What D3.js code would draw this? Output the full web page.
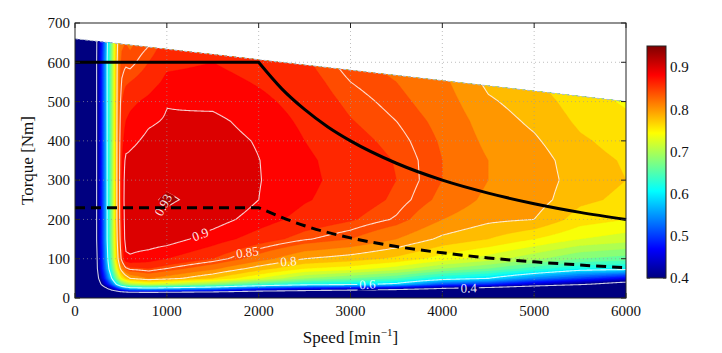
<!DOCTYPE html>
<html>
<head>
<meta charset="utf-8">
<script src="https://cdn.jsdelivr.net/npm/d3@7"></script>
<style>
  body { margin: 0; background: #fff; }
  svg text { font-family: "Liberation Serif", "DejaVu Serif", serif; }
</style>
</head>
<body>
<div id="chart"></div>
<script>
// Efficiency map of an electric drive: speed [min^-1] vs torque [Nm]
// grid values

const speeds  = [0, 100, 200, 300, 400, 450, 500, 550, 600, 800, 1000, 1500, 2000, 2500, 3000, 3500, 4000, 4500, 5000, 5500, 6000];
const torques = [0, 10, 20, 35, 50, 75, 100, 150, 200, 250, 300, 350, 400, 450, 500, 550, 600, 660];

// one row per torque, one column per speed
const efficiency = [
  [0, 0,   0,   0,   0,    0,    0,    0,    0,    0,    0,    0,    0,     0,    0,    0,    0,    0,    0,    0,    0],
  [0, .10, .15, .20, .24,  .26,  .28,  .29,  .30,  .30,  .30,  .28,  .25,   .24,  .22,  .20,  .18,  .16,  .14,  .12,  .10],
  [0, .13, .25, .33, .40,  .44,  .48,  .50,  .52,  .53,  .52,  .50,  .45,   .42,  .40,  .38,  .35,  .32,  .28,  .25,  .22],
  [0, .15, .30, .42, .53,  .60,  .66,  .69,  .71,  .73,  .72,  .69,  .65,   .62,  .61,  .59,  .52,  .50,  .45,  .41,  .36],
  [0, .16, .32, .46, .60,  .68,  .75,  .78,  .80,  .82,  .81,  .78,  .74,   .70,  .68,  .66,  .62,  .60,  .55,  .51,  .47],
  [0, .17, .33, .49, .65,  .74,  .81,  .845, .855, .86,  .85,  .825, .79,   .76,  .75,  .73,  .70,  .68,  .65,  .62,  .615],
  [0, .17, .33, .50, .675, .77,  .85,  .895, .897, .89,  .88,  .86,  .83,   .80,  .79,  .775, .75,  .73,  .705, .68,  .67],
  [0, .18, .34, .51, .69,  .785, .865, .908, .91,  .912, .91,  .89,  .87,   .852, .84,  .82,  .795, .78,  .76,  .74,  .73],
  [0, .18, .34, .51, .69,  .79,  .872, .91,  .915, .922, .925, .91,  .89,   .872, .862, .848, .82,  .805, .80,  .77,  .76],
  [0, .18, .34, .51, .69,  .79,  .875, .912, .917, .926, .933, .922, .90,   .882, .87,  .857, .835, .815, .81,  .785, .775],
  [0, .18, .34, .51, .69,  .79,  .875, .91,  .913, .922, .925, .92,  .901,  .885, .872, .86,  .84,  .82,  .812, .79,  .78],
  [0, .18, .34, .51, .69,  .79,  .872, .905, .905, .913, .915, .915, .9005, .884, .87,  .859, .84,  .82,  .81,  .788, .778],
  [0, .18, .34, .51, .69,  .79,  .868, .89,  .895, .905, .908, .91,  .898,  .88,  .866, .855, .838, .815, .803, .783, .772],
  [0, .18, .34, .51, .69,  .79,  .862, .88,  .885, .897, .902, .905, .892,  .876, .861, .85,  .835, .81,  .796, .776, .765],
  [0, .18, .34, .51, .69,  .79,  .856, .87,  .875, .885, .899, .895, .885,  .872, .856, .845, .83,  .803, .79,  .77,  .757],
  [0, .18, .34, .51, .69,  .79,  .85,  .857, .86,  .87,  .885, .888, .878,  .868, .85,  .84,  .825, .795, .783, .762, .75],
  [0, .18, .34, .51, .69,  .79,  .843, .848, .845, .86,  .875, .88,  .87,   .863, .843, .834, .82,  .79,  .775, .755, .742],
  [0, .18, .34, .50, .685, .785, .835, .838, .835, .845, .865, .87,  .862,  .856, .835, .826, .812, .78,  .767, .745, .735]
];

// measured area ends at this torque limit
const limitSpeed  = [0, 6000];
const limitTorque = [660, 500];

// maximum torque curve (solid) and rated torque curve (dashed)
const maxSpeed    = [0, 2000, 2250, 2500, 2750, 3000, 3500, 4000, 4500, 5000, 5500, 6000];
const maxTorque   = [600, 600, 533, 480, 436, 400, 343, 300, 267, 240, 218, 200];
const ratedSpeed  = [0, 2000, 2500, 3000, 3500, 4000, 4500, 5000, 5500, 6000];
const ratedTorque = [230, 230, 184, 153, 131, 115, 102, 92, 84, 77];

const fillLevels = [0.40, 0.42, 0.44, 0.46, 0.48, 0.50, 0.52, 0.54, 0.56, 0.58, 0.60, 0.62, 0.64,
                    0.66, 0.68, 0.70, 0.72, 0.74, 0.76, 0.78, 0.80, 0.82, 0.84, 0.86, 0.88, 0.90, 0.93];
const lineLevels = [0.4, 0.6, 0.8, 0.85, 0.9, 0.93];
const contourLabels = [
  { level: 0.93, speed: 960,  torque: 237, angle: -62, snap: false },
  { level: 0.9,  speed: 1364, torque: 163, angle: -21, snap: true },
  { level: 0.85, speed: 1876, torque: 108, angle: -8,  snap: true },
  { level: 0.8,  speed: 2324, torque: 90,  angle: -5,  snap: true },
  { level: 0.6,  speed: 3185, torque: 38,  angle: -3,  snap: true },
  { level: 0.4,  speed: 4287, torque: 24,  angle: -2,  snap: true }
];

const speedTicks  = [0, 1000, 2000, 3000, 4000, 5000, 6000];
const torqueTicks = [0, 100, 200, 300, 400, 500, 600, 700];
const colorTicks  = [0.4, 0.5, 0.6, 0.7, 0.8, 0.9];
const colorRange  = [0.4, 0.95];

// MATLAB jet colormap
function jet(t) {
  const c = v => Math.round(255 * Math.max(0, Math.min(1, v)));
  const r = Math.min(4 * t - 1.5, -4 * t + 4.5);
  const g = Math.min(4 * t - 0.5, -4 * t + 3.5);
  const b = Math.min(4 * t + 0.5, -4 * t + 2.5);
  return `rgb(${c(r)},${c(g)},${c(b)})`;
}
const colorOf = v => jet((v - colorRange[0]) / (colorRange[1] - colorRange[0]));

// bilinear lookup in the grid
function eta(n, t) {
  const i = Math.max(0, Math.min(speeds.length - 2, d3.bisectRight(speeds, n) - 1));
  const j = Math.max(0, Math.min(torques.length - 2, d3.bisectRight(torques, t) - 1));
  const u = Math.max(0, Math.min(1, (n - speeds[i]) / (speeds[i + 1] - speeds[i])));
  const v = Math.max(0, Math.min(1, (t - torques[j]) / (torques[j + 1] - torques[j])));
  return (1 - u) * (1 - v) * efficiency[j][i] + u * (1 - v) * efficiency[j][i + 1]
       + (1 - u) * v * efficiency[j + 1][i] + u * v * efficiency[j + 1][i + 1];
}

const width = 722, height = 353;
const plot = { left: 75, right: 626, top: 23, bottom: 298 };

const svg = d3.select("#chart").append("svg")
  .attr("width", width).attr("height", height);

const x = d3.scaleLinear().domain([0, 6000]).range([plot.left, plot.right]);
const y = d3.scaleLinear().domain([0, 700]).range([plot.bottom, plot.top]);

const defs = svg.append("defs");

// clip: below the torque limit line, inside the axes
defs.append("clipPath").attr("id", "mapClip")
  .append("path")
  .attr("d", d3.line()([
    [x(limitSpeed[0]), y(0)],
    [x(limitSpeed[1]), y(0)],
    [x(limitSpeed[1]), y(limitTorque[1])],
    [x(limitSpeed[0]), y(limitTorque[0])]
  ]) + "Z");

// sample grid for the contour generator
const dn = 15, dT = 2.5;
const nx = Math.round(6000 / dn) + 1, ny = Math.round(660 / dT) + 1;
const grid = new Float64Array(nx * ny);
for (let j = 0; j < ny; j++) {
  for (let i = 0; i < nx; i++) grid[j * nx + i] = eta(i * dn, j * dT);
}

const toPlot = d3.geoTransform({
  point(px, py) { this.stream.point(x((px - 0.5) * dn), y((py - 0.5) * dT)); }
});
const geo = d3.geoPath(toPlot);

const mapG = svg.append("g").attr("clip-path", "url(#mapClip)");

mapG.append("rect")
  .attr("x", plot.left).attr("y", plot.top)
  .attr("width", plot.right - plot.left).attr("height", plot.bottom - plot.top)
  .attr("fill", jet(0));

mapG.selectAll("path.band")
  .data(d3.contours().size([nx, ny]).thresholds(fillLevels)(grid))
  .join("path")
  .attr("class", "band")
  .attr("d", geo)
  .attr("fill", d => colorOf(d.value))
  .attr("fill-rule", "evenodd")
  .attr("stroke", d => colorOf(d.value))
  .attr("stroke-width", 0.3);

// gaps in the white lines where labels sit
const mask = defs.append("mask").attr("id", "labelGap")
  .attr("maskUnits", "userSpaceOnUse")
  .attr("x", 0).attr("y", 0).attr("width", width).attr("height", height);
mask.append("rect").attr("width", width).attr("height", height).attr("fill", "#fff");

mapG.append("g").attr("mask", "url(#labelGap)")
  .selectAll("path")
  .data(d3.contours().size([nx, ny]).thresholds(lineLevels)(grid))
  .join("path")
  .attr("d", geo)
  .attr("fill", "none")
  .attr("stroke", "#fff")
  .attr("stroke-opacity", 0.8)
  .attr("stroke-width", 1.1);

// labels
contourLabels.forEach(l => {
  let t = l.torque;
  if (l.snap) {
    let best = null;
    for (let k = l.torque - 25; k < l.torque + 25; k += 0.5) {
      const a = eta(l.speed, k) - l.level, b = eta(l.speed, k + 0.5) - l.level;
      if (a * b <= 0) {
        const c = k + 0.5 * a / (a - b);
        if (best === null || Math.abs(c - l.torque) < Math.abs(best - l.torque)) best = c;
      }
    }
    if (best !== null) t = best;
  }
  const px = x(l.speed), py = y(t);
  const txt = svg.append("text")
    .attr("transform", `translate(${px},${py}) rotate(${l.angle})`)
    .attr("text-anchor", "middle")
    .attr("dy", "0.35em")
    .attr("fill", "#fff")
    .attr("fill-opacity", 0.92)
    .style("font-size", "13px")
    .text(l.level);
  const w = txt.node().getComputedTextLength();
  mask.append("rect")
    .attr("transform", `translate(${px},${py}) rotate(${l.angle})`)
    .attr("x", -w / 2 - 2).attr("y", -6)
    .attr("width", w + 4).attr("height", 12)
    .attr("fill", "#000");
});

// grid
const gridG = svg.append("g")
  .attr("stroke", "#9a9a9a").attr("stroke-width", 0.8)
  .attr("stroke-dasharray", "1,3").attr("opacity", 0.8);
speedTicks.slice(1, -1).forEach(s => gridG.append("line")
  .attr("x1", x(s)).attr("x2", x(s)).attr("y1", plot.top).attr("y2", plot.bottom));
torqueTicks.slice(1, -1).forEach(v => gridG.append("line")
  .attr("x1", plot.left).attr("x2", plot.right).attr("y1", y(v)).attr("y2", y(v)));

// torque limit edge
svg.append("path")
  .attr("d", d3.line()(limitSpeed.map((s, i) => [x(s), y(limitTorque[i])])))
  .attr("fill", "none")
  .attr("stroke", "#aeb8cc")
  .attr("stroke-width", 1)
  .attr("stroke-dasharray", "3,2");

// torque curves: flat part straight, field-weakening part smooth
function curvePath(sp, tq) {
  const pts = sp.map((s, i) => [x(s), y(tq[i])]);
  const flat = d3.line()(pts.slice(0, 2));
  const fw = d3.line().curve(d3.curveMonotoneX)(pts.slice(1));
  return flat + fw.replace(/^M/, "L");
}

svg.append("path")
  .attr("d", curvePath(maxSpeed, maxTorque))
  .attr("fill", "none").attr("stroke", "#000").attr("stroke-width", 3);

svg.append("path")
  .attr("d", curvePath(ratedSpeed, ratedTorque))
  .attr("fill", "none").attr("stroke", "#000").attr("stroke-width", 3)
  .attr("stroke-dasharray", "10,6");

// axes box and inward ticks
svg.append("rect")
  .attr("x", plot.left).attr("y", plot.top)
  .attr("width", plot.right - plot.left).attr("height", plot.bottom - plot.top)
  .attr("fill", "none").attr("stroke", "#222").attr("stroke-width", 1);

const tickG = svg.append("g").attr("stroke", "#222").attr("stroke-width", 1);
speedTicks.forEach(s => {
  tickG.append("line").attr("x1", x(s)).attr("x2", x(s)).attr("y1", plot.bottom).attr("y2", plot.bottom - 5);
  tickG.append("line").attr("x1", x(s)).attr("x2", x(s)).attr("y1", plot.top).attr("y2", plot.top + 5);
});
torqueTicks.forEach(v => {
  tickG.append("line").attr("x1", plot.left).attr("x2", plot.left + 5).attr("y1", y(v)).attr("y2", y(v));
  tickG.append("line").attr("x1", plot.right).attr("x2", plot.right - 5).attr("y1", y(v)).attr("y2", y(v));
});

svg.append("g").selectAll("text")
  .data(speedTicks).join("text")
  .attr("x", d => x(d)).attr("y", plot.bottom + 18)
  .attr("text-anchor", "middle")
  .style("font-size", "15px").attr("fill", "#111")
  .text(d => d);

svg.append("g").selectAll("text")
  .data(torqueTicks).join("text")
  .attr("x", plot.left - 5).attr("y", d => y(d))
  .attr("dy", "0.35em")
  .attr("text-anchor", "end")
  .style("font-size", "15px").attr("fill", "#111")
  .text(d => d);

// axis titles
svg.append("text")
  .attr("transform", `translate(33, ${(plot.top + plot.bottom) / 2}) rotate(-90)`)
  .attr("text-anchor", "middle")
  .style("font-size", "17px").attr("fill", "#111")
  .text("Torque [Nm]");

const xl = svg.append("text")
  .attr("x", (plot.left + plot.right) / 2).attr("y", 343)
  .attr("text-anchor", "middle")
  .style("font-size", "17px").attr("fill", "#111");
xl.append("tspan").text("Speed [min");
xl.append("tspan").attr("dy", -7).style("font-size", "11px").text("\u22121");
xl.append("tspan").attr("dy", 7).text("]");

// colorbar
const cb = { x: 647, w: 19 };
const c = d3.scaleLinear().domain(colorRange).range([278, 46]);
const grad = defs.append("linearGradient").attr("id", "jetGrad")
  .attr("x1", 0).attr("y1", 1).attr("x2", 0).attr("y2", 0);
d3.range(0, 33).forEach(k => grad.append("stop")
  .attr("offset", k / 32).attr("stop-color", jet(k / 32)));

svg.append("rect")
  .attr("x", cb.x).attr("y", c(colorRange[1]))
  .attr("width", cb.w).attr("height", c(colorRange[0]) - c(colorRange[1]))
  .attr("fill", "url(#jetGrad)")
  .attr("stroke", "#222").attr("stroke-width", 1);

colorTicks.forEach(v => {
  tickG.append("line").attr("x1", cb.x).attr("x2", cb.x + 3).attr("y1", c(v)).attr("y2", c(v));
  tickG.append("line").attr("x1", cb.x + cb.w).attr("x2", cb.x + cb.w - 3).attr("y1", c(v)).attr("y2", c(v));
});

svg.append("g").selectAll("text")
  .data(colorTicks).join("text")
  .attr("x", cb.x + cb.w + 4).attr("y", d => c(d))
  .attr("dy", "0.35em")
  .style("font-size", "15px").attr("fill", "#111")
  .text(d => d.toFixed(1));
</script>
</body>
</html>
